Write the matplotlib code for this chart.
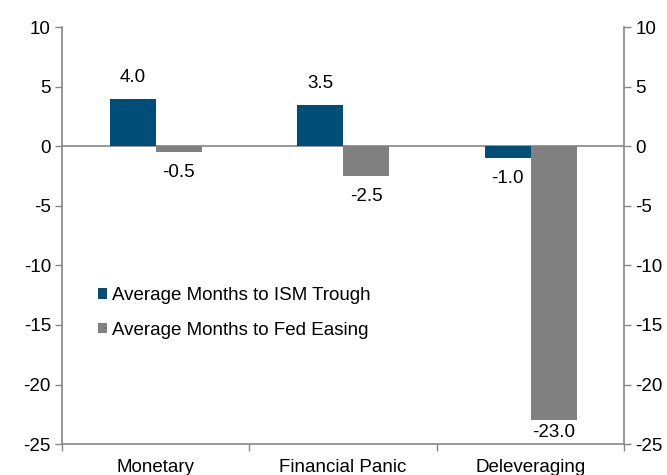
import matplotlib
matplotlib.use("Agg")
import matplotlib.pyplot as plt
import numpy as np

categories = ["Monetary", "Financial Panic", "Deleveraging"]
ism_trough = [4.0, 3.5, -1.0]
fed_easing = [-0.5, -2.5, -23.0]
series_names = ["Average Months to ISM Trough", "Average Months to Fed Easing"]
yticks = [-25, -20, -15, -10, -5, 0, 5, 10]

plt.rcParams['font.family'] = ['Liberation Sans', 'DejaVu Sans']
BLUE = "#004D78"
GRAY = "#808080"
AX = "#868686"

fig = plt.figure(figsize=(6.67, 4.75), dpi=100)
ax = fig.add_axes([0.093, 0.065, 0.843, 0.878])

x = np.arange(len(categories))
w = 0.245
b1 = ax.bar(x - w/2, ism_trough, w, color=BLUE, label=series_names[0], zorder=2)
b2 = ax.bar(x + w/2, fed_easing, w, color=GRAY, label=series_names[1], zorder=2)

fs = 13.5
for bars, vals in ((b1, ism_trough), (b2, fed_easing)):
    for r, v in zip(bars, vals):
        ypos = v + 1.75 if v >= 0 else max(v - 1.7, -24.0)
        ax.text(r.get_x() + r.get_width()/2, ypos, f"{v:.1f}",
                ha="center", va="center", fontsize=fs, color="black")

ax.set_xlim(-0.5, len(categories) - 0.5)
ax.set_ylim(-25, 10)
ax.axhline(0, color=AX, lw=1.2, zorder=1)

ax.set_yticks(yticks)
ax.set_yticklabels([str(t) for t in yticks], fontsize=fs)
ax.set_xticks(x)
ax.set_xticklabels(categories, fontsize=fs)
ax.set_xticks(np.arange(len(categories) + 1) - 0.5, minor=True)
ax.tick_params(axis="x", which="major", length=0, pad=11)
ax.tick_params(axis="x", which="minor", length=5, color=AX, width=1)
ax.tick_params(axis="y", length=5, color=AX, width=1, pad=3)

for s in ("left", "right", "bottom"):
    ax.spines[s].set_color(AX)
    ax.spines[s].set_linewidth(1.2)
ax.spines["top"].set_visible(False)

ax2 = ax.twinx()
ax2.set_ylim(-25, 10)
ax2.set_yticks(yticks)
ax2.set_yticklabels([str(t) for t in yticks], fontsize=fs)
ax2.tick_params(axis="y", length=5, color=AX, width=1, pad=3)
for s in ("left", "right", "bottom", "top"):
    ax2.spines[s].set_visible(False)

ax.legend(loc="upper left", bbox_to_anchor=(0.05, 0.395), frameon=False,
          fontsize=fs, handlelength=0.5, handleheight=0.5, handletextpad=0.25,
          labelspacing=0.95, borderaxespad=0)

fig.savefig("out.png", dpi=100)
